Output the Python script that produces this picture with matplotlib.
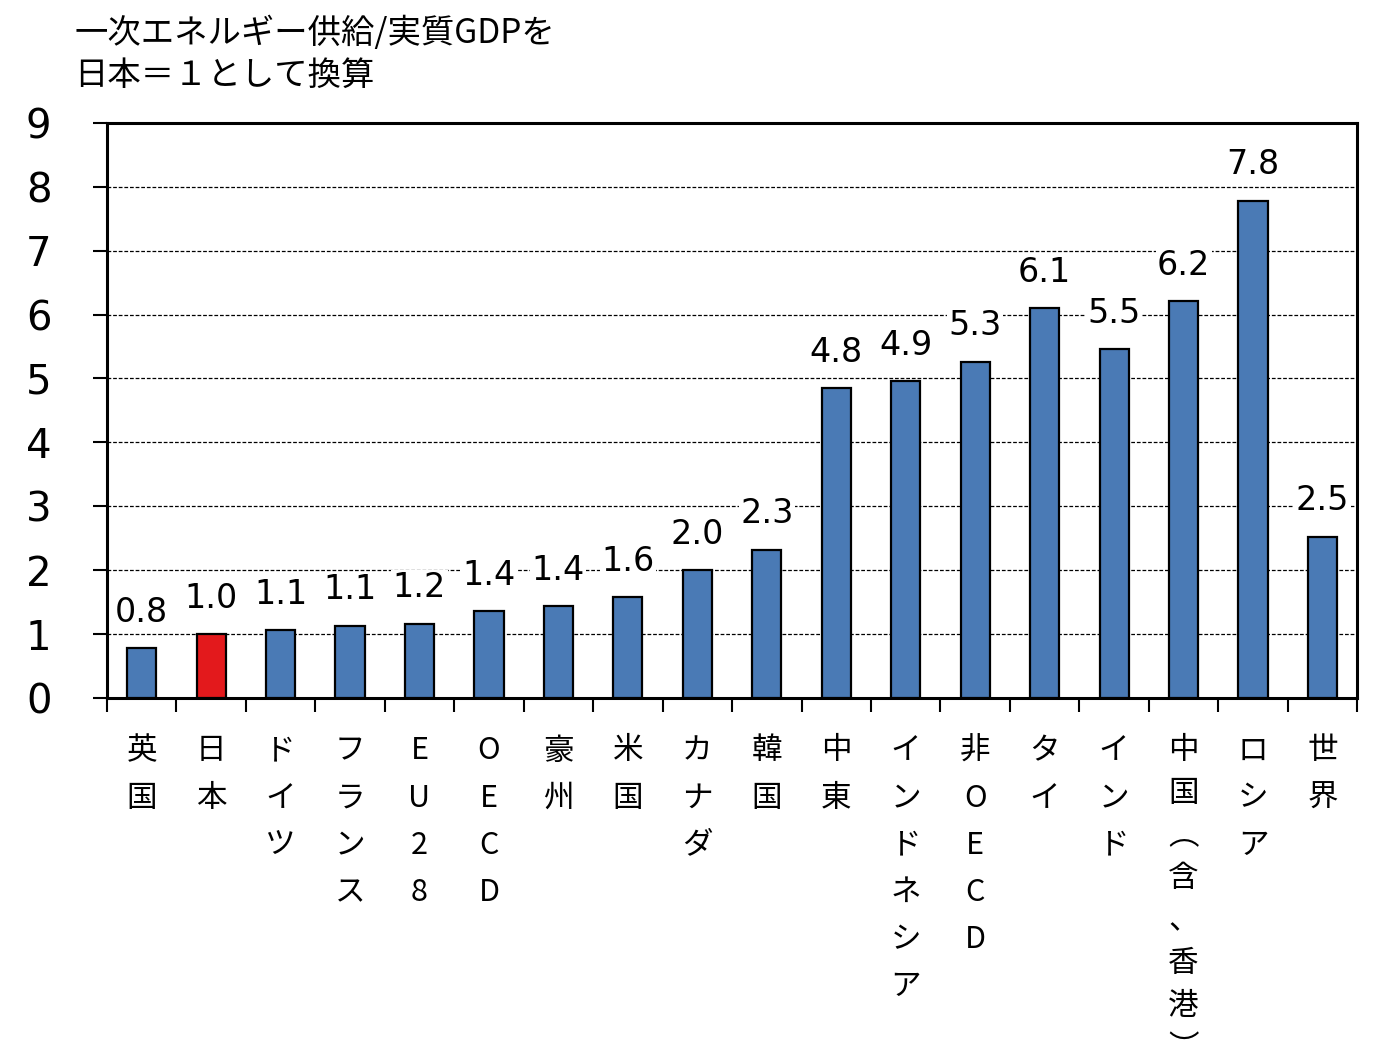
import matplotlib.pyplot as plt
import numpy as np

# Primary energy supply / real GDP, Japan = 1
countries = ["英国", "日本", "ドイツ", "フランス", "EU28", "OECD", "豪州", "米国",
             "カナダ", "韓国", "中東", "インドネシア", "非OECD", "タイ", "インド",
             "中国︵含、香港︶", "ロシア", "世界"]
values = [0.78, 1.0, 1.06, 1.13, 1.16, 1.36, 1.44, 1.58, 2.0, 2.32,
          4.85, 4.96, 5.26, 6.1, 5.46, 6.21, 7.78, 2.52]
value_labels = ["0.8", "1.0", "1.1", "1.1", "1.2", "1.4", "1.4", "1.6", "2.0", "2.3",
                "4.8", "4.9", "5.3", "6.1", "5.5", "6.2", "7.8", "2.5"]
highlight = "日本"
yticks = list(range(0, 10))

BLUE = "#4A7AB5"
RED = "#E3191C"
JP = ["Noto Sans CJK JP", "DejaVu Sans"]

fig = plt.figure(figsize=(13.8, 10.64), dpi=100)
ax = fig.add_axes([0.0775, 0.344, 0.906, 0.5406])

x = np.arange(len(countries))
colors = [RED if c == highlight else BLUE for c in countries]
bars = ax.bar(x, values, width=0.42, color=colors, edgecolor="black",
              linewidth=1.6, zorder=3)

for b, lab in zip(bars, value_labels):
    ax.annotate(lab, (b.get_x() + b.get_width() / 2, b.get_height()),
                xytext=(0, 14), textcoords="offset points",
                ha="center", va="bottom", fontsize=24, family="DejaVu Sans",
                bbox=dict(facecolor="white", edgecolor="none", pad=1), zorder=4)

ax.set_xlim(-0.5, len(countries) - 0.5)
ax.set_ylim(0, 9)
ax.set_yticks(yticks)
ax.set_yticklabels([str(t) for t in yticks], fontsize=29, family="DejaVu Sans")
ax.yaxis.grid(True, linestyle=(0, (3, 1.5)), color="black", linewidth=0.9, zorder=0)
ax.set_axisbelow(True)

# ticks on the category boundaries, labels written vertically underneath
ax.set_xticks(np.arange(-0.5, len(countries), 1.0))
ax.set_xticklabels([])
ax.tick_params(axis="x", length=10, width=1.5, direction="out")
ax.tick_params(axis="y", length=10, width=1.5, direction="out", pad=30)
for s in ax.spines.values():
    s.set_linewidth(2.2)

for i, c in enumerate(countries):
    chars = list(c)
    ls = 1.67 if len(chars) <= 7 else 1.48
    ax.annotate("\n".join(chars), (i, 0), xycoords=("data", "axes fraction"),
                xytext=(0, -27), textcoords="offset points",
                ha="center", va="top", fontsize=22, family=JP, linespacing=ls)

fig.text(0.054, 0.985, "一次エネルギー供給/実質GDPを\n日本＝１として換算",
         ha="left", va="top", fontsize=24, family=JP, linespacing=1.25)

fig.savefig("out.png", dpi=100)
